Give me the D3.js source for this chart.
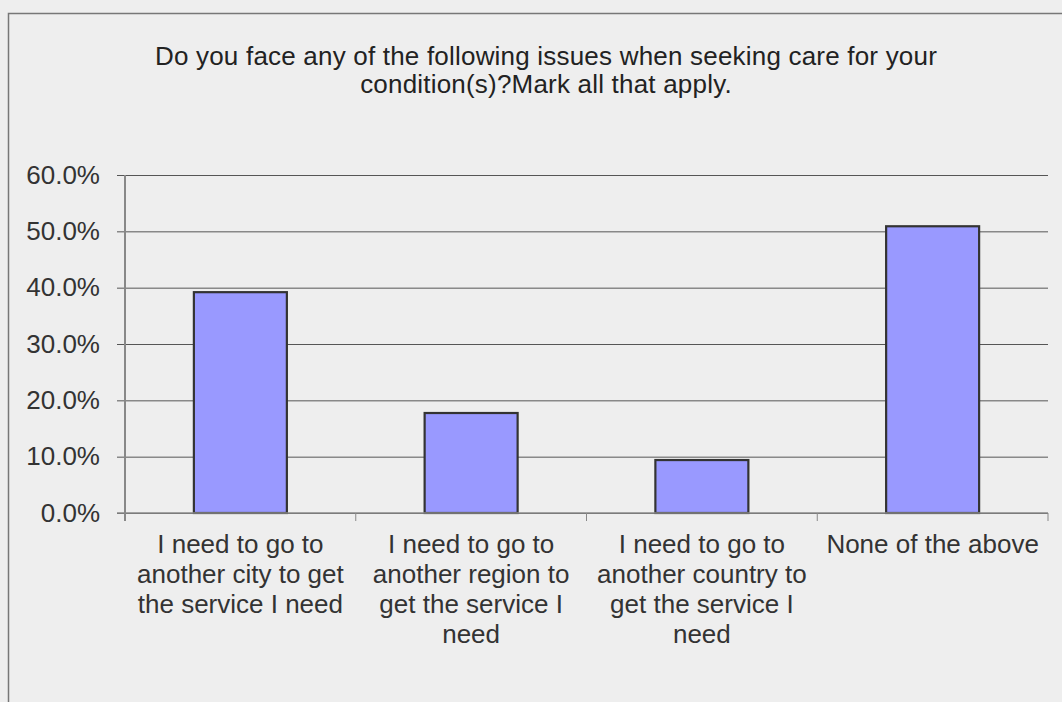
<!DOCTYPE html>
<html>
<head>
<meta charset="utf-8">
<script src="https://d3js.org/d3.v7.min.js"></script>
<style>
  body { margin: 0; background: #eeeeee; }
  text { font-family: "Liberation Sans", Arial, sans-serif; fill: #333; }
</style>
</head>
<body>
<script>
  // chart data
  const categories = [
    "I need to go to another city to get the service I need",
    "I need to go to another region to get the service I need",
    "I need to go to another country to get the service I need",
    "None of the above"
  ];
  const catLines = [
    ["I need to go to", "another city to get", "the service I need"],
    ["I need to go to", "another region to", "get the service I", "need"],
    ["I need to go to", "another country to", "get the service I", "need"],
    ["None of the above"]
  ];
  const values = [0.392, 0.1775, 0.094, 0.509];
  const yTicks = [0, 0.1, 0.2, 0.3, 0.4, 0.5, 0.6];
  const titleLines = [
    "Do you face any of the following issues when seeking care for your",
    "condition(s)?Mark all that apply."
  ];

  const W = 1062, H = 702;
  const margin = {top: 175, right: 14, bottom: 189, left: 125};
  const width = W - margin.left - margin.right,
        height = H - margin.top - margin.bottom;

  const svg = d3.select("body").append("svg")
    .attr("width", W)
    .attr("height", H);

  svg.append("rect")
    .attr("width", W).attr("height", H)
    .attr("fill", "#eeeeee");

  // outer frame (only top and left are visible)
  svg.append("path")
    .attr("d", "M8.5," + H + "V13.5H" + W)
    .attr("fill", "none")
    .attr("stroke", "#777")
    .attr("stroke-width", 1.5);

  svg.append("g").selectAll("text")
    .data(titleLines)
    .enter().append("text")
      .attr("x", 546)
      .attr("y", (d, i) => 65 + i * 28)
      .attr("text-anchor", "middle")
      .attr("font-size", 26)
      .attr("letter-spacing", 0.2)
      .style("fill", "#222")
      .text(d => d);

  const g = svg.append("g")
    .attr("transform", "translate(" + margin.left + "," + margin.top + ")");

  const x = d3.scaleBand()
    .domain(categories)
    .range([0, width])
    .paddingInner(0.597)
    .paddingOuter(0.2985);

  const y = d3.scaleLinear()
    .domain([0, 0.6])
    .range([height, 0]);

  // gridlines + y labels
  const yAxis = g.append("g")
    .call(d3.axisLeft(y)
      .tickValues(yTicks)
      .tickSize(-width - 8)
      .tickPadding(25)
      .tickFormat(d3.format(".1%")));
  yAxis.select(".domain").remove();
  yAxis.selectAll(".tick line")
    .attr("x1", -8)
    .attr("x2", width)
    .attr("stroke", "#555");
  yAxis.selectAll(".tick text")
    .attr("font-size", 26)
    .attr("fill", "#333");

  // bars
  g.selectAll(".bar")
    .data(values)
    .enter().append("rect")
      .attr("class", "bar")
      .attr("x", (d, i) => x(categories[i]))
      .attr("width", x.bandwidth())
      .attr("y", d => y(d))
      .attr("height", d => height - y(d))
      .attr("fill", "#9999ff")
      .attr("stroke", "#333")
      .attr("stroke-width", 2.2);

  // y axis line
  g.append("line")
    .attr("x1", 0).attr("x2", 0)
    .attr("y1", 0).attr("y2", height + 8)
    .attr("stroke", "#888")
    .attr("stroke-width", 2);

  // x axis line and category dividers
  g.append("line")
    .attr("x1", -8).attr("x2", width)
    .attr("y1", height).attr("y2", height)
    .attr("stroke", "#888")
    .attr("stroke-width", 1.5);

  const step = width / categories.length;
  g.selectAll(".xtick")
    .data(d3.range(1, categories.length + 1))
    .enter().append("line")
      .attr("x1", d => d * step).attr("x2", d => d * step)
      .attr("y1", height).attr("y2", height + 8)
      .attr("stroke", "#888");

  // category labels
  const labels = g.selectAll(".cat")
    .data(catLines)
    .enter().append("text")
      .attr("class", "cat")
      .attr("text-anchor", "middle")
      .attr("font-size", 26)
      .attr("transform", (d, i) => "translate(" + (x(categories[i]) + x.bandwidth() / 2) + "," + (height + 40) + ")");
  labels.selectAll("tspan")
    .data(d => d)
    .enter().append("tspan")
      .attr("x", 0)
      .attr("y", (d, i) => i * 30)
      .text(d => d);
</script>
</body>
</html>
